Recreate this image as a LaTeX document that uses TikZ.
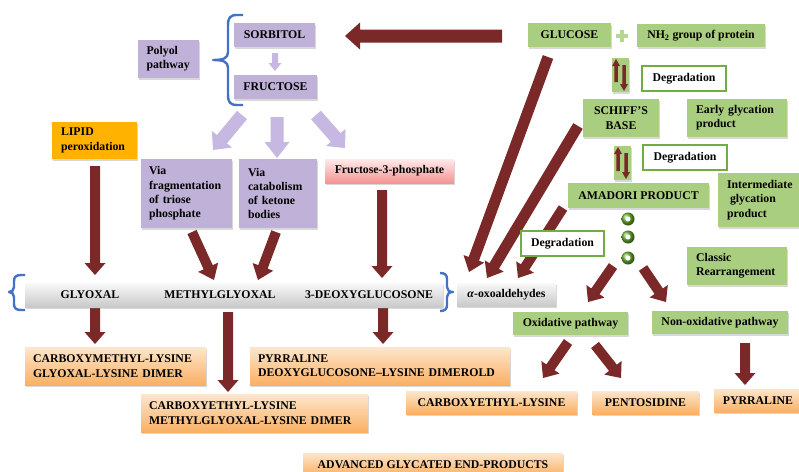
\documentclass[tikz,border=0pt]{standalone}
\usepackage{fontspec}
\setmainfont{Liberation Serif}
\usetikzlibrary{shadows,calc}
\definecolor{dred}{RGB}{122,40,40}
\definecolor{lav}{RGB}{191,177,216}
\definecolor{lavarrow}{RGB}{198,184,224}
\definecolor{gbox}{RGB}{170,206,128}
\definecolor{gline}{RGB}{112,173,71}
\definecolor{plusg}{RGB}{182,216,142}
\definecolor{bbrace}{RGB}{68,114,196}
\definecolor{amber}{RGB}{255,178,0}
\definecolor{otop}{RGB}{253,230,204}
\definecolor{obot}{RGB}{249,176,100}
\definecolor{pktop}{RGB}{255,234,234}
\definecolor{pkbot}{RGB}{244,148,148}
\definecolor{dotgreen}{RGB}{110,185,50}
% block arrow: style, x1, y1, x2, y2, shaft width, head width, head length
\newcommand\barrow[8]{%
  \pgfmathsetmacro\bA{-atan2((#5)-(#3),(#4)-(#2))}%
  \pgfmathsetmacro\bL{veclen((#4)-(#2),(#5)-(#3))}%
  \pgfmathsetmacro\bH{\bL-(#8)}%
  \fill[#1,shift={(#2,#3)},rotate=\bA] (0,-#6/2) -- (\bH,-#6/2) -- (\bH,-#7/2) -- (\bL,0)
    -- (\bH,#7/2) -- (\bH,#6/2) -- (0,#6/2) -- cycle;}
% box: name, style, x1, y1, x2, y2, text
\newcommand\bx[7]{\node[#2,minimum width={(#5)-(#3)},minimum height={(#6)-(#4)}] (#1)
  at ({((#3)+(#5))/2},{((#4)+(#6))/2}) {#7};}
\begin{document}
\begin{tikzpicture}[x=1pt,y=-1pt,font=\bfseries\fontsize{11.8}{14.3}\selectfont,
  base/.style={inner sep=0pt,align=center,drop shadow={shadow xshift=1.2pt,shadow yshift=-1.5pt,opacity=0.3}},
  pbox/.style={base,fill=lav},
  gbx/.style={base,fill=gbox},
  obox/.style={base,top color=otop,bottom color=obot},
  grbox/.style={base,top color=gray!5,bottom color=gray!42},
  pkbox/.style={base,top color=pktop,bottom color=pkbot},
  lipidbox/.style={base,fill=amber},
  degbox/.style={inner sep=0pt,align=center,fill=white,draw=gline,line width=1.6pt},
  lt/.style={align=left,text width=#1},
  darr/.style={fill=dred},
  parr/.style={fill=lavarrow},
  brace/.style={draw=bbrace,line width=2.4pt,line join=round},
  dot/.style={circle,minimum size=13pt,inner sep=0pt,shading=ball,ball color=dotgreen},
]
\fill[white] (0,0) rectangle (799,471);
\useasboundingbox (0,0) rectangle (799,471);

% ---- thick arrows (behind boxes)
\barrow{darr}{502}{36}{345}{36}{13}{27}{15}
\barrow{darr}{95}{166}{95}{275}{10}{21}{12}
\barrow{darr}{192}{232}{214}{280}{10}{22}{14}
\barrow{darr}{276}{232}{258}{280}{10}{22}{14}
\barrow{darr}{382}{190}{382}{278}{10}{21}{12}
\barrow{darr}{95}{308}{95}{344}{10}{21}{12}
\barrow{darr}{228}{312}{228}{392}{10}{21}{12}
\barrow{darr}{383}{308}{383}{344}{10}{21}{12}
\barrow{darr}{548}{57}{469}{272}{11}{22}{14}
\barrow{darr}{578}{126}{487}{278}{11}{22}{14}
\barrow{darr}{563}{208}{518}{278}{10}{21}{13}
\barrow{darr}{613}{266}{588}{302}{10}{22}{13}
\barrow{darr}{643}{268}{666}{302}{10}{22}{13}
\barrow{darr}{568}{342}{543}{378}{10}{22}{13}
\barrow{darr}{595}{345}{621}{378}{10}{22}{13}
\barrow{darr}{745}{343}{745}{385}{10}{21}{12}
\barrow{parr}{275}{53}{275}{71}{6}{13}{8}
\barrow{parr}{242}{115}{213}{150}{13}{26}{14}
\barrow{parr}{277}{117}{277}{158}{13}{25}{16}
\barrow{parr}{316}{115}{345}{148}{13}{26}{14}

% ---- braces
\draw[brace] (243,15) -- (237,15) .. controls (230,15) and (228,18) .. (228,25) -- (228,52)
  .. controls (228,58) and (224,60) .. (213,60) .. controls (224,60) and (228,62) .. (228,68)
  -- (228,95) .. controls (228,102) and (230,105) .. (237,105) -- (243,105);
\draw[brace] (25,275) -- (21,275) .. controls (16,275) and (14,277) .. (14,281) -- (14,287)
  .. controls (14,290) and (12,292) .. (9,292) .. controls (12,292) and (14,294) .. (14,297)
  -- (14,304) .. controls (14,308) and (16,310) .. (21,310) -- (25,310);
\draw[brace] (440,273) .. controls (445,273) and (447,275) .. (447,279) -- (447,287)
  .. controls (447,290) and (449,292) .. (453,292) .. controls (449,292) and (447,294) .. (447,297)
  -- (447,305) .. controls (447,309) and (445,311) .. (440,311);

% ---- left / polyol part
\bx{polyol}{pbox,lt=44pt}{138}{40}{199}{78}{Polyol\\pathway}
\bx{sorbitol}{pbox}{234}{23}{315}{47}{SORBITOL}
\bx{fructose}{pbox}{234}{75}{317}{99}{FRUCTOSE}
\bx{lipid}{lipidbox,lt=67pt}{52}{122}{137}{159}{LIPID\\peroxidation}
\bx{via1}{pbox,lt=75pt}{141}{159}{232}{228}{Via\\fragmentation\\of triose\\phosphate}
\bx{via2}{pbox,lt=60pt}{239}{159}{317}{228}{Via\\catabolism\\of ketone\\bodies}
\bx{f3p}{pkbox}{325}{159}{454}{183}{Fructose-3-phosphate}

% ---- bar
\bx{bar}{grbox}{25}{283}{443}{307}{}
\node (gly) at (90,295) {GLYOXAL};
\node (mgo) at (220,295) {METHYLGLYOXAL};
\node (dg) at (369,295) {3-DEOXYGLUCOSONE};
\bx{alpha}{grbox}{457}{283}{556}{306}{\textit{α}-oxoaldehydes}

% ---- products
\bx{cml}{obox,lt=165pt}{25}{347}{206}{385}{CARBOXYMETHYL-LYSINE\\GLYOXAL-LYSINE DIMER}
\bx{ceml}{obox,lt=211pt}{141}{394}{368}{432}{CARBOXYETHYL-LYSINE\\METHYLGLYOXAL-LYSINE DIMER}
\bx{pyr1}{obox,lt=244pt}{250}{347}{510}{385}{PYRRALINE\\DEOXYGLUCOSONE–LYSINE DIMEROLD}
\bx{age}{obox}{303}{453}{563}{476}{ADVANCED GLYCATED END-PRODUCTS}

% ---- right part
\bx{glucose}{gbx}{528}{23}{611}{47}{GLUCOSE}
\fill[plusg] (616,34) rectangle (628,38);
\fill[plusg] (620,30) rectangle (624,42);
\bx{nh2}{gbx}{637}{24}{765}{47}{NH\textsubscript{2} group of protein}
\bx{ud1}{gbx}{612}{58}{629}{92}{}
\bx{deg1}{degbox}{642}{66}{726}{91}{Degradation}
\bx{schiff}{gbx}{583}{99}{659}{137}{SCHIFF’S\\BASE}
\bx{early}{gbx,lt=82pt}{687}{99}{787}{137}{Early glycation\\product}
\bx{ud2}{gbx}{614}{146}{631}{180}{}
\bx{deg2}{degbox}{643}{145}{727}{170}{Degradation}
\bx{amadori}{gbx}{568}{183}{709}{208}{AMADORI PRODUCT}
\bx{inter}{gbx,lt=67pt}{718}{173}{803}{227}{Intermediate\\\hspace*{3pt}glycation\\product}
\bx{deg3}{degbox}{521}{231}{604}{256}{Degradation}
\bx{classic}{gbx,lt=82pt}{687}{247}{787}{285}{Classic\\Rearrangement}
\bx{oxid}{gbx}{513}{312}{628}{335}{Oxidative pathway}
\bx{nonox}{gbx}{652}{311}{788}{334}{Non-oxidative pathway}
\bx{cel}{obox}{406}{391}{577}{414}{CARBOXYETHYL-LYSINE}
\bx{pent}{obox}{592}{391}{699}{414}{PENTOSIDINE}
\bx{pyr2}{obox}{714}{389}{802}{412}{PYRRALINE}

% small up/down arrows
\barrow{darr}{616}{82}{616}{59}{3.5}{8}{7}
\barrow{darr}{624}{65}{624}{91}{3.5}{8}{7}
\barrow{darr}{618}{171}{618}{147}{3.5}{8}{7}
\barrow{darr}{626}{153}{626}{179}{3.5}{8}{7}

% green dots
\foreach \n/\yy in {d1/219,d2/237,d3/258}{
  \node[dot] (\n) at (628,\yy) {};
  \fill[white] (\n) circle (2.5);
}
\end{tikzpicture}
\end{document}
